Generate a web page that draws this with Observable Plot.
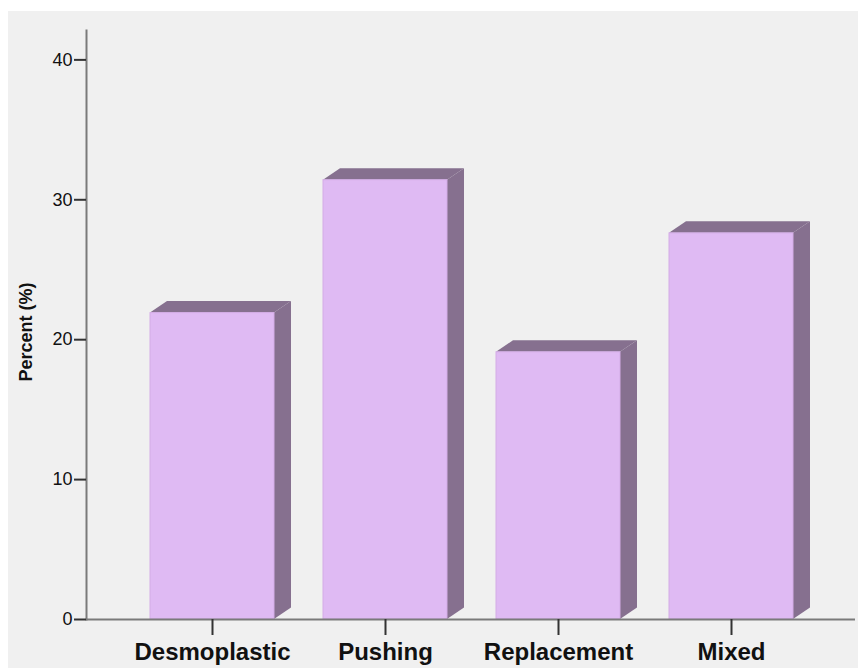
<!DOCTYPE html>
<html>
<head>
<meta charset="utf-8">
<script src="https://cdn.jsdelivr.net/npm/d3@7"></script>
<script src="https://cdn.jsdelivr.net/npm/@observablehq/plot@0.6"></script>
<style>
  html, body { margin: 0; padding: 0; background: #ffffff; }
  #wrap { position: relative; width: 858px; height: 668px; overflow: hidden; }
  #panel { position: absolute; left: 8px; top: 11px; right: 0; bottom: 0; background: #f0f0f0; }
  #chart { position: absolute; left: 0; top: 0; }
  #chart svg { display: block; }
</style>
</head>
<body>
<div id="wrap">
  <div id="panel"></div>
  <div id="chart"></div>
</div>
<script>
// Invasion growth pattern distribution
const categories = ["Desmoplastic", "Pushing", "Replacement", "Mixed"];
const percents = [21.9, 31.4, 19.1, 27.6];
const yTicks = [0, 10, 20, 30, 40];
const yLabel = "Percent (%)";

const rows = categories.map((c, i) => ({category: c, percent: percents[i]}));

const FRONT = "#dfbaf3";
const SHADE = "#86708f";
const DEPTH_X = 17, DEPTH_Y = 11.5;

// Extruded bars: side and top faces drawn behind the front face
function bars3d(index, scales) {
  const {x, y} = scales;
  const bw = x.bandwidth();
  const g = d3.create("svg:g");
  for (const d of rows) {
    const x0 = x(d.category), x1 = x0 + bw;
    const yv = y(d.percent), y0 = y(0);
    g.append("polygon")
      .attr("points", [[x1, yv], [x1 + DEPTH_X, yv - DEPTH_Y], [x1 + DEPTH_X, y0 - DEPTH_Y], [x1, y0]].join(" "))
      .attr("fill", SHADE);
    g.append("polygon")
      .attr("points", [[x0, yv], [x0 + DEPTH_X, yv - DEPTH_Y], [x1 + DEPTH_X, yv - DEPTH_Y], [x1, yv]].join(" "))
      .attr("fill", SHADE);
    g.append("rect")
      .attr("x", x0).attr("y", yv)
      .attr("width", bw).attr("height", y0 - yv)
      .attr("fill", FRONT)
      .attr("stroke", "#d3ace6").attr("stroke-width", 1);
  }
  return g.node();
}

const chart = Plot.plot({
  width: 858,
  height: 668,
  marginLeft: 86,
  marginRight: 3,
  marginTop: 30,
  marginBottom: 49,
  style: {background: "transparent", fontFamily: "'Liberation Sans', Arial, sans-serif", color: "#111"},
  x: {type: "band", domain: categories, range: [149, 793], paddingInner: 0.2846, paddingOuter: 0, align: 0.5},
  y: {domain: [0, 42.1]},
  marks: [
    bars3d,
    Plot.frame({anchor: "left", stroke: "#7a7a7a", strokeWidth: 2, strokeOpacity: 1}),
    Plot.ruleY([0], {stroke: "#7a7a7a", strokeWidth: 2}),
    Plot.axisY({ticks: yTicks, tickSize: 12, tickPadding: 2, fontSize: 18, label: null, stroke: "#333", strokeWidth: 2}),
    Plot.axisX({tickSize: 16, tickPadding: 7, fontSize: 24, fontWeight: "bold", label: null, stroke: "#333", strokeWidth: 2}),
    Plot.text([yLabel], {frameAnchor: "left", dx: -60, dy: 7, rotate: -90, textAnchor: "middle", fontSize: 18, fontWeight: "bold", fill: "#111"})
  ]
});

document.getElementById("chart").appendChild(chart);
</script>
</body>
</html>
